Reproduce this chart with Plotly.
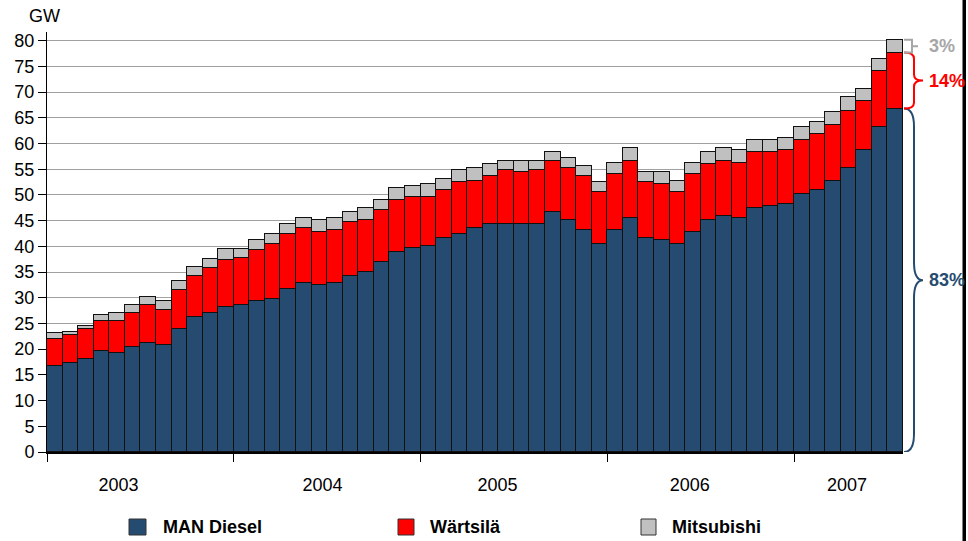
import plotly.graph_objects as go

# ---- data (GW, monthly Jan 2003 .. Jul 2007) ----
YEARS = ["2003", "2004", "2005", "2006", "2007"]
MONTHS = [f"{y}-{m:02d}" for y in range(2003, 2008) for m in range(1, 13)][:55]

MAN_DIESEL = [16.8, 17.3, 18.1, 19.6, 19.2, 20.4, 21.2, 20.8, 23.9, 26.2, 27.0, 28.2,
              28.6, 29.3, 29.7, 31.7, 32.8, 32.4, 32.8, 34.3, 35.0, 37.0, 38.9, 39.6,
              40.0, 41.6, 42.4, 43.5, 44.3, 44.3, 44.3, 44.3, 46.7, 45.1, 43.2, 40.4,
              43.2, 45.5, 41.6, 41.3, 40.4, 42.7, 45.1, 45.9, 45.5, 47.4, 47.8, 48.2,
              50.1, 50.9, 52.8, 55.2, 58.7, 63.3, 66.8]
WARTSILA = [5.2, 5.4, 5.8, 5.9, 6.3, 6.6, 7.4, 6.9, 7.6, 8.1, 8.8, 9.2,
            9.2, 10.0, 10.8, 10.7, 10.8, 10.4, 10.4, 10.5, 10.1, 10.0, 10.1, 10.1,
            9.7, 9.3, 10.1, 9.3, 9.3, 10.5, 10.1, 10.5, 10.0, 10.1, 10.4, 10.1,
            10.8, 11.2, 10.9, 10.8, 10.1, 11.3, 10.9, 10.8, 10.8, 10.9, 10.5, 10.5,
            10.5, 10.9, 10.8, 11.1, 9.6, 10.8, 10.9]
MITSUBISHI = [1.1, 0.7, 0.7, 1.1, 1.5, 1.6, 1.5, 1.6, 1.7, 1.6, 1.7, 2.0,
              1.6, 2.0, 2.0, 2.0, 1.9, 2.3, 2.3, 1.9, 2.3, 2.0, 2.3, 2.0,
              2.4, 2.3, 2.3, 2.4, 2.4, 1.9, 2.3, 1.9, 1.6, 1.9, 2.0, 2.0,
              2.3, 2.4, 1.9, 2.3, 2.3, 2.3, 2.3, 2.4, 2.4, 2.3, 2.3, 2.3,
              2.7, 2.3, 2.5, 2.8, 2.4, 2.3, 2.5]
Y_TICKS = list(range(0, 85, 5))

# ---- style ----
FONT = "Liberation Sans, Arial, sans-serif"
C_MAN = "#264B70"
C_WAR = "#FF0000"
C_MIT = "#C0C0C0"
C_MIT_TXT = "#A6A6A6"
W, H = 968, 541
ML, MR, MT, MB = 47, 65, 32, 89
PW = W - ML - MR
PH = H - MT - MB
FS = 18


def px_x(p):
    return (p - ML) / PW


def px_y(p):
    return (H - MB - p) / PH


x = list(range(len(MAN_DIESEL)))
fig = go.Figure()
for name, vals, col in [("MAN Diesel", MAN_DIESEL, C_MAN),
                        ("Wärtsilä", WARTSILA, C_WAR),
                        ("Mitsubishi", MITSUBISHI, C_MIT)]:
    fig.add_trace(go.Bar(x=x, y=vals, name=name, customdata=MONTHS,
                         marker=dict(color=col, line=dict(color="#111111", width=1)),
                         hovertemplate="%{customdata}: %{y} GW<extra>" + name + "</extra>"))

# year label positions (in bar index units) and year boundaries
label_pos = [4.1, 17.2, 28.45, 40.8, 50.9]
bounds = [i * 12 - 0.5 for i in range(len(YEARS))]

fig.update_layout(
    width=W, height=H, autosize=False,
    margin=dict(l=ML, r=MR, t=MT, b=MB),
    barmode="stack", bargap=0,
    plot_bgcolor="white", paper_bgcolor="white",
    showlegend=False,
    font=dict(family=FONT, size=FS, color="black"),
    xaxis=dict(range=[-0.5, len(x) - 0.5], tickmode="array", tickvals=label_pos,
               ticktext=YEARS, ticks="outside", ticklen=16, tickcolor="rgba(0,0,0,0)",
               showline=True, linecolor="black", linewidth=1.5, showgrid=False,
               zeroline=False,
               minor=dict(tickmode="array", tickvals=bounds, ticks="outside",
                          ticklen=8, tickcolor="black", tickwidth=1, showgrid=False),
               tickfont=dict(size=FS)),
    yaxis=dict(range=[0, 81.7], tickmode="array", tickvals=Y_TICKS,
               ticks="outside", ticklen=8, tickcolor="black", tickwidth=1,
               showline=True, linecolor="black", linewidth=1,
               showgrid=True, gridcolor="#A0A0A0", gridwidth=1, zeroline=False,
               tickfont=dict(size=FS)),
)

# ---- braces at the right with shares of last month ----
total = MAN_DIESEL[-1] + WARTSILA[-1] + MITSUBISHI[-1]
y_blue = MAN_DIESEL[-1]
y_red = MAN_DIESEL[-1] + WARTSILA[-1]
x0, x1, xp = px_x(904), px_x(914), px_x(923)


def brace(ytop, ybot, r):
    ym = (ytop + ybot) / 2
    return (f"M {x0},{ytop} Q {x1},{ytop} {x1},{ytop - r} "
            f"L {x1},{ym + r} Q {x1},{ym} {xp},{ym} "
            f"Q {x1},{ym} {x1},{ym - r} "
            f"L {x1},{ybot + r} Q {x1},{ybot} {x0},{ybot}")


shapes = [
    dict(type="path", xref="paper", yref="y", path=brace(y_blue, 0, 3.5),
         line=dict(color=C_MAN, width=2)),
    dict(type="path", xref="paper", yref="y", path=brace(y_red, y_blue, 1.2),
         line=dict(color=C_WAR, width=2)),
    dict(type="path", xref="paper", yref="y",
         path=(f"M {x0},{total} L {px_x(912)},{total} L {px_x(912)},{y_red} "
               f"L {x0},{y_red} "
               f"M {px_x(912)},{(total + y_red) / 2} L {px_x(918)},{(total + y_red) / 2}"),
         line=dict(color=C_MIT_TXT, width=2)),
    dict(type="rect", xref="paper", yref="paper", x0=px_x(962.5), x1=px_x(966),
         y0=px_y(H + 5), y1=px_y(-5), fillcolor="black", line=dict(width=0),
         layer="above"),
]

annotations = [
    dict(text="GW", xref="paper", yref="paper", x=px_x(44), y=px_y(16),
         xanchor="center", yanchor="middle", showarrow=False, font=dict(size=FS)),
]
for val, ymid, col in [(MITSUBISHI[-1], (total + y_red) / 2, C_MIT_TXT),
                       (WARTSILA[-1], (y_red + y_blue) / 2, C_WAR),
                       (MAN_DIESEL[-1], y_blue / 2, C_MAN)]:
    annotations.append(dict(text=f"<b>{round(100 * val / total)}%</b>", xref="paper",
                            yref="y", x=px_x(927), y=ymid, xanchor="left",
                            yanchor="middle", showarrow=False,
                            font=dict(size=FS, color=col)))

# ---- custom legend ----
for name, col, mx0, mx1, tx in [("MAN Diesel", C_MAN, 129, 146, 161),
                                ("Wärtsilä", C_WAR, 398, 414, 428),
                                ("Mitsubishi", C_MIT, 641, 656, 670)]:
    shapes.append(dict(type="rect", xref="paper", yref="paper",
                       x0=px_x(mx0), x1=px_x(mx1), y0=px_y(535), y1=px_y(519),
                       fillcolor=col, line=dict(color="#333333", width=1)))
    annotations.append(dict(text=f"<b>{name}</b>", xref="paper", yref="paper",
                            x=px_x(tx), y=px_y(527), xanchor="left", yanchor="middle",
                            showarrow=False, font=dict(size=FS)))

fig.update_layout(shapes=shapes, annotations=annotations)
fig.write_html("out.html", config={"displayModeBar": False},
               post_script="document.body.style.margin='0';"
                           "document.body.style.overflow='hidden';")
